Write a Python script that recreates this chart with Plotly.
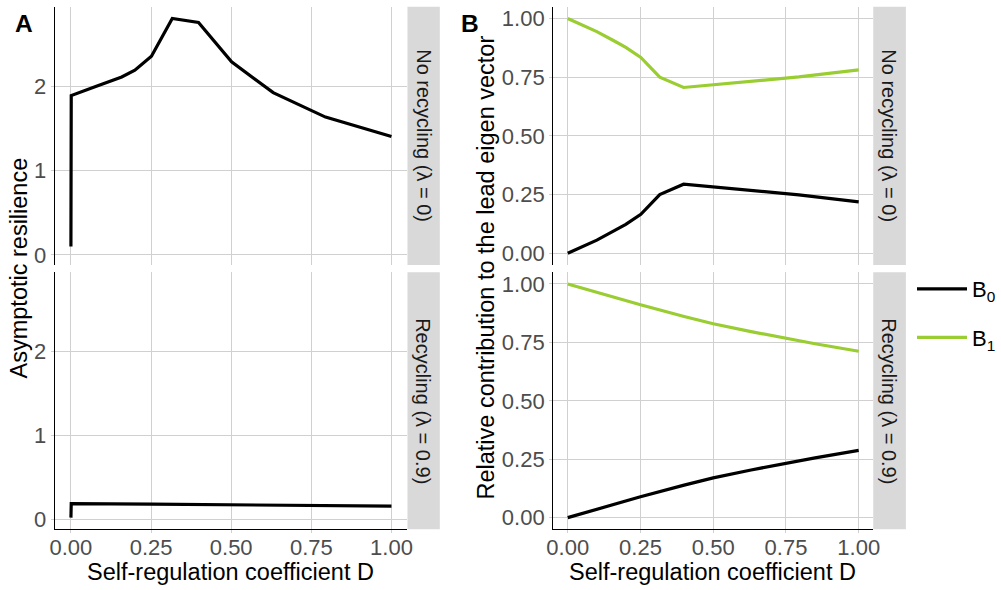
import plotly.graph_objects as go

# ---------------- data ----------------
# Panel A: asymptotic resilience vs self-regulation coefficient D
D_A_top = [0, 0.001, 0.0794, 0.1585, 0.1995, 0.2512, 0.3162, 0.3981, 0.5012, 0.6310, 0.7943, 1.0]
res_top = [0.10, 1.89, 2.00, 2.11, 2.19, 2.357, 2.805, 2.758, 2.29, 1.925, 1.635, 1.405]

D_A_bot = [0, 0.001, 0.25, 0.5, 0.75, 1.0]
res_bot = [0.02, 0.187, 0.180, 0.172, 0.165, 0.158]

# Panel B: relative contribution to the lead eigen vector
D_B_top = [0, 0.0501, 0.1, 0.1585, 0.1995, 0.2512, 0.3162, 0.3981, 0.5012, 0.6310, 0.7943, 1.0]
B0_top = [0, 0.028, 0.056, 0.095, 0.123, 0.166, 0.250, 0.294, 0.283, 0.269, 0.249, 0.219]
B1_top = [1, 0.972, 0.944, 0.905, 0.877, 0.834, 0.750, 0.706, 0.717, 0.731, 0.751, 0.781]

D_B_bot = [0, 0.1, 0.25, 0.4, 0.5, 0.63, 0.75, 0.85, 1.0]
B0_bot = [0, 0.037, 0.089, 0.139, 0.170, 0.204, 0.234, 0.256, 0.288]
B1_bot = [1, 0.963, 0.911, 0.861, 0.830, 0.796, 0.766, 0.744, 0.712]

x_ticks = [0, 0.25, 0.5, 0.75, 1.0]
x_tick_labels = ["0.00", "0.25", "0.50", "0.75", "1.00"]
yA_ticks = [0, 1, 2]
yA_tick_labels = ["0", "1", "2"]
yB_ticks = [0, 0.25, 0.5, 0.75, 1.0]
yB_tick_labels = ["0.00", "0.25", "0.50", "0.75", "1.00"]

strip_labels = ["No recycling (λ = 0)", "Recycling (λ = 0.9)"]
series_names = ["B<sub>0</sub>", "B<sub>1</sub>"]

# ---------------- styling ----------------
W, H = 1001, 590
FONT = "Liberation Sans, Arial, Helvetica, sans-serif"
C_B0 = "#000000"
C_B1 = "#9ACD32"
GRID = "#D0D0D0"
LW = 3.2

def px_x(p):
    return p / W

def px_y(p):
    return 1 - p / H

A_x = [px_x(55), px_x(408.3)]
B_x = [px_x(554.3), px_x(875)]
top_y = [px_y(265), px_y(6.7)]
bot_y = [px_y(529.3), px_y(272.3)]

fig = go.Figure()

fig.add_trace(go.Scatter(x=D_A_top, y=res_top, mode="lines", line=dict(color="black", width=LW),
                         xaxis="x", yaxis="y", showlegend=False))
fig.add_trace(go.Scatter(x=D_A_bot, y=res_bot, mode="lines", line=dict(color="black", width=LW),
                         xaxis="x2", yaxis="y2", showlegend=False))

fig.add_trace(go.Scatter(x=D_B_top, y=B0_top, mode="lines", name=series_names[0], legendgroup="b0",
                         line=dict(color=C_B0, width=LW), xaxis="x3", yaxis="y3", showlegend=True))
fig.add_trace(go.Scatter(x=D_B_top, y=B1_top, mode="lines", name=series_names[1], legendgroup="b1",
                         line=dict(color=C_B1, width=LW), xaxis="x3", yaxis="y3", showlegend=True))
fig.add_trace(go.Scatter(x=D_B_bot, y=B0_bot, mode="lines", name=series_names[0], legendgroup="b0",
                         line=dict(color=C_B0, width=LW), xaxis="x4", yaxis="y4", showlegend=False))
fig.add_trace(go.Scatter(x=D_B_bot, y=B1_bot, mode="lines", name=series_names[1], legendgroup="b1",
                         line=dict(color=C_B1, width=LW), xaxis="x4", yaxis="y4", showlegend=False))

tickfont = dict(family=FONT, size=22, color="#4D4D4D")

def xax(domain, anchor, bottom):
    return dict(domain=domain, anchor=anchor, range=[-0.05, 1.05], tickvals=x_ticks,
                ticktext=x_tick_labels, showticklabels=bottom, showgrid=True, gridcolor=GRID,
                gridwidth=1, zeroline=False, showline=bottom, linecolor="black", linewidth=1.3,
                ticks="outside" if bottom else "", ticklen=3, tickcolor=GRID, tickwidth=1,
                ticklabelstandoff=-5, tickfont=tickfont, fixedrange=True, automargin=False)

def yax(domain, anchor, rng, tv, tt):
    return dict(domain=domain, anchor=anchor, range=rng, tickvals=tv, ticktext=tt,
                showgrid=True, gridcolor=GRID, gridwidth=1, zeroline=False, showline=True,
                linecolor="black", linewidth=1.3, ticks="outside", ticklen=3, tickcolor=GRID,
                tickwidth=1, tickfont=tickfont, fixedrange=True, automargin=False)

yA_range = [-0.119, 2.944]
yB_range = [-0.05, 1.05]

fig.update_layout(
    width=W, height=H,
    margin=dict(l=0, r=0, t=0, b=0, pad=0),
    paper_bgcolor="white", plot_bgcolor="white",
    font=dict(family=FONT, color="black"),
    xaxis=xax(A_x, "y", False),
    yaxis=yax(top_y, "x", yA_range, yA_ticks, yA_tick_labels),
    xaxis2=xax(A_x, "y2", True),
    yaxis2=yax(bot_y, "x2", yA_range, yA_ticks, yA_tick_labels),
    xaxis3=xax(B_x, "y3", False),
    yaxis3=yax(top_y, "x3", yB_range, yB_ticks, yB_tick_labels),
    xaxis4=xax(B_x, "y4", True),
    yaxis4=yax(bot_y, "x4", yB_range, yB_ticks, yB_tick_labels),
    showlegend=True,
    legend=dict(x=px_x(914), y=px_y(268), xanchor="left", yanchor="top",
                font=dict(family=FONT, size=22, color="black"), itemwidth=50,
                tracegroupgap=17, bgcolor="rgba(0,0,0,0)", borderwidth=0),
)

shapes = []
annotations = []
# strips
for (sx0, sx1) in [(408.3, 440.7), (875, 907.7)]:
    for (dom, label) in [(top_y, strip_labels[0]), (bot_y, strip_labels[1])]:
        shapes.append(dict(type="rect", xref="paper", yref="paper", x0=px_x(sx0), x1=px_x(sx1),
                           y0=dom[0], y1=dom[1], fillcolor="#D9D9D9", line=dict(width=0), layer="below"))
        annotations.append(dict(xref="paper", yref="paper", x=px_x((sx0 + sx1) / 2),
                                y=(dom[0] + dom[1]) / 2, text=label, textangle=90, showarrow=False,
                                xanchor="center", yanchor="middle",
                                font=dict(family=FONT, size=20, color="#1A1A1A")))

title_font = dict(family=FONT, size=23.5, color="black")
annotations += [
    dict(xref="paper", yref="paper", x=px_x(230.8), y=px_y(572), text="Self-regulation coefficient D",
         showarrow=False, xanchor="center", yanchor="middle", font=title_font),
    dict(xref="paper", yref="paper", x=px_x(714), y=px_y(572), text="Self-regulation coefficient D",
         showarrow=False, xanchor="center", yanchor="middle", font=title_font),
    dict(xref="paper", yref="paper", x=px_x(19), y=px_y(267.5), text="Asymptotic resilience",
         textangle=-90, showarrow=False, xanchor="center", yanchor="middle", font=title_font),
    dict(xref="paper", yref="paper", x=px_x(486), y=px_y(267.5),
         text="Relative contribution to the lead eigen vector",
         textangle=-90, showarrow=False, xanchor="center", yanchor="middle", font=title_font),
    dict(xref="paper", yref="paper", x=px_x(24.5), y=px_y(23), text="<b>A</b>",
         showarrow=False, xanchor="center", yanchor="middle",
         font=dict(family=FONT, size=24.5, color="black")),
    dict(xref="paper", yref="paper", x=px_x(471), y=px_y(23), text="<b>B</b>",
         showarrow=False, xanchor="center", yanchor="middle",
         font=dict(family=FONT, size=24.5, color="black")),
]

fig.update_layout(shapes=shapes, annotations=annotations)

fig.write_html("out.html", config={"displayModeBar": False},
               post_script="document.body.style.margin='0';document.body.style.overflow='hidden';")
